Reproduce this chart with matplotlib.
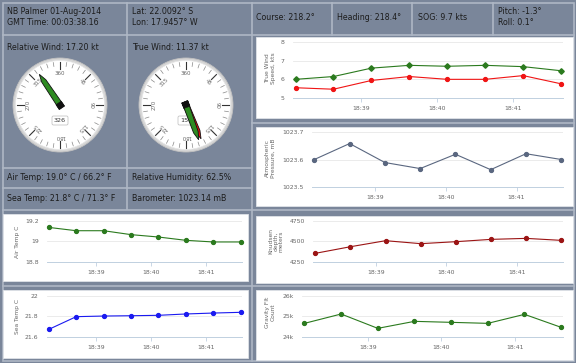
import numpy as np
import matplotlib.pyplot as plt
from matplotlib.patches import Rectangle, Circle, Polygon, FancyBboxPatch

W, H = 576, 363

# ---- data ----
times = ["18:38:08", "18:38:38", "18:39:08", "18:39:38",
         "18:40:08", "18:40:38", "18:41:08", "18:41:38"]
tick_times = ["18:39", "18:40", "18:41"]

wind_speed_green = [6.00, 6.15, 6.60, 6.75, 6.70, 6.75, 6.68, 6.46]
wind_speed_red = [5.55, 5.47, 5.94, 6.15, 6.00, 6.00, 6.20, 5.76]
pressure = [1023.600, 1023.658, 1023.589, 1023.567,
            1023.619, 1023.563, 1023.621, 1023.600]
air_temp = [19.135, 19.103, 19.103, 19.065, 19.042, 19.010, 18.994, 18.994]
sea_temp = [21.674, 21.797, 21.803, 21.806, 21.810, 21.823, 21.832, 21.839]
knudsen = [4355, 4435, 4508, 4472, 4496, 4524, 4536, 4512]
gravity = [24661, 25113, 24419, 24758, 24710, 24661, 25097, 24468]

rel_wind_dir = 326
true_wind_dir = 160
true_wind_dir_red = 156
gauge_labels = ["360", "45", "90", "135", "180", "225", "270", "315"]

header = [("NB Palmer 01-Aug-2014\nGMT Time: 00:03:38.16", 7),
          ("Lat: 22.0092° S\nLon: 17.9457° W", 132),
          ("Course: 218.2°", 256),
          ("Heading: 218.4°", 337),
          ("SOG: 9.7 kts", 418),
          ("Pitch: -1.3°\nRoll: 0.1°", 498)]

BG = "#7a869a"
SEP = "#aeb7c5"
TXT = "#1c1c1c"
GRAY = "#666666"


def to_min(s):
    parts = [int(p) for p in s.split(":")]
    sec = parts[2] if len(parts) > 2 else 0
    return parts[0] * 60 + parts[1] + sec / 60.0


x = np.array([to_min(t) for t in times])
xticks = [to_min(t) for t in tick_times]

fig = plt.figure(figsize=(W / 100, H / 100), dpi=100)
fig.patch.set_facecolor(BG)
base = fig.add_axes([0, 0, 1, 1])
base.set_xlim(0, W)
base.set_ylim(H, 0)
base.axis("off")


def hline(y, x0, x1):
    base.plot([x0, x1], [y, y], color=SEP, lw=1.2)


def vline(xx, y0, y1):
    base.plot([xx, xx], [y0, y1], color=SEP, lw=1.2)


# separators
base.add_patch(Rectangle((2.5, 2.5), 571, 358, fill=False, ec=SEP, lw=1.2))
hline(34.5, 2.5, 573.5)
for xx in [127, 332, 412, 493]:
    vline(xx, 2.5, 34.5)
vline(251.5, 2.5, 360.5)
vline(127, 34.5, 209)
hline(167.5, 2.5, 251.5)
hline(188, 2.5, 251.5)
hline(209.5, 2.5, 573.5)
hline(286, 2.5, 573.5)
hline(122.5, 251.5, 573.5)

# header texts
for txt, xx in header:
    base.text(xx, 17, txt, fontsize=5.7, color=TXT, va="center", ha="left",
              linespacing=1.25)

base.text(7, 48, "Relative Wind: 17.20 kt", fontsize=5.7, color=TXT, va="center")
base.text(132, 48, "True Wind: 11.37 kt", fontsize=5.7, color=TXT, va="center")
base.text(7, 178, "Air Temp: 19.0° C / 66.2° F", fontsize=5.7, color=TXT, va="center")
base.text(132, 178, "Relative Humidity: 62.5%", fontsize=5.7, color=TXT, va="center")
base.text(7, 198.5, "Sea Temp: 21.8° C / 71.3° F", fontsize=5.7, color=TXT, va="center")
base.text(132, 198.5, "Barometer: 1023.14 mB", fontsize=5.7, color=TXT, va="center")


def draw_needle(cx, cy, bearing, length, color, z):
    a = np.deg2rad(bearing)
    d = np.array([np.sin(a), -np.cos(a)])
    n = np.array([np.cos(a), np.sin(a)])
    c = np.array([cx, cy])
    pts = [c - d * 3 + n * 3.0, c + d * length * 0.78 + n * 2.4,
           c + d * length, c + d * length * 0.78 - n * 2.4, c - d * 3 - n * 3.0]
    base.add_patch(Polygon(pts, closed=True, fc=color, ec="#111111", lw=0.6, zorder=z))
    base.add_patch(Polygon([c - d * 3.5 + n * 3.2, c + d * 2.5 + n * 3.2,
                            c + d * 2.5 - n * 3.2, c - d * 3.5 - n * 3.2],
                           closed=True, fc="#111111", ec="#111111", lw=0.4, zorder=z + 0.1))


def gauge(cx, cy, value_text, needles):
    r = 47
    base.add_patch(Circle((cx, cy), r, fc="#d6d6d6", ec="#c0c0c0", lw=0.6, zorder=2))
    base.add_patch(Circle((cx, cy), r - 2.5, fc="#ffffff", ec="#e6e6e6", lw=0.5, zorder=2))
    for deg in np.arange(0, 360, 9):
        a = np.deg2rad(deg)
        major = deg % 45 == 0
        r0 = r - (11 if major else 8)
        r1 = r - 4
        base.plot([cx + r0 * np.sin(a), cx + r1 * np.sin(a)],
                  [cy - r0 * np.cos(a), cy - r1 * np.cos(a)],
                  color="#333333" if major else "#888888",
                  lw=0.8 if major else 0.5, zorder=3)
    for i, lab in enumerate(gauge_labels):
        deg = i * 45
        a = np.deg2rad(deg)
        rr = r - 15.5
        base.text(cx + rr * np.sin(a), cy - rr * np.cos(a), lab, fontsize=3.9,
                  color=GRAY, rotation=-deg, ha="center", va="center",
                  rotation_mode="anchor", zorder=3)
    base.add_patch(FancyBboxPatch((cx - 8, cy + 11), 16, 9,
                                  boxstyle="round,pad=0,rounding_size=1.5",
                                  fc="white", ec="#bbbbbb", lw=0.5, zorder=4))
    base.text(cx, cy + 15.5, value_text, fontsize=4.6, color="#333333",
              ha="center", va="center", zorder=4)
    for k, (bearing, color) in enumerate(needles):
        draw_needle(cx, cy, bearing, 37, color, 5 + k)


gauge(60, 105, str(rel_wind_dir), [(rel_wind_dir, "#2e8b22")])
gauge(186, 105, str(true_wind_dir - 1),
      [(true_wind_dir_red, "#e81010"), (true_wind_dir, "#2e8b22")])


def px_axes(x0, y0, x1, y1):
    return fig.add_axes([x0 / W, 1 - y1 / H, (x1 - x0) / W, (y1 - y0) / H])


def chart(panel, plot, series, ylim, yticks, yticklabels, ylabel, lab_xy):
    px0, py0, px1, py1 = panel
    base.add_patch(Rectangle((px0, py0), px1 - px0, py1 - py0, fc="white",
                             ec="#dfe3e8", lw=0.6, zorder=1))
    base.text(lab_xy[0], lab_xy[1], ylabel, rotation=90, fontsize=4.3,
              color=GRAY, ha="center", va="center", linespacing=1.1, zorder=2)
    ax = px_axes(*plot)
    ax.set_facecolor("none")
    for vals, color, marker in series:
        ax.plot(x, vals, color=color, lw=0.8, marker=marker, ms=2.8,
                mfc=color, mec=color, zorder=3, clip_on=False)
    ax.set_xlim(x[0] - 2 / 60, x[-1] + 1.5 / 60)
    ax.set_ylim(*ylim)
    ax.set_yticks(yticks)
    ax.set_yticklabels(yticklabels)
    ax.set_xticks(xticks)
    ax.set_xticklabels(tick_times)
    for s in ["top", "right", "left"]:
        ax.spines[s].set_visible(False)
    ax.spines["bottom"].set_color("#c0d0e0")
    ax.spines["bottom"].set_linewidth(0.7)
    ax.grid(axis="y", color="#e8e8e8", lw=0.6)
    ax.tick_params(axis="y", length=0, pad=6, labelsize=4.4, labelcolor=GRAY)
    ax.tick_params(axis="x", length=3, width=0.6, color="#c0d0e0", pad=3,
                   labelsize=4.4, labelcolor=GRAY)
    return ax


chart((256, 37, 573, 118), (293, 42, 563, 98),
      [(wind_speed_green, "#2b7a1e", "D"), (wind_speed_red, "#f01414", "o")],
      (5, 8), [5, 6, 7, 8], ["5", "6", "7", "8"],
      "True Wind\nSpeed, kts", (270.5, 68))

chart((256, 127, 573, 206), (312, 132, 563, 187),
      [(pressure, "#5a6780", "o")],
      (1023.5, 1023.7), [1023.5, 1023.6, 1023.7], ["1023.5", "1023.6", "1023.7"],
      "Atmospheric\nPressure, mB", (270.5, 158))

chart((3, 214, 248, 281), (47, 220.7, 242, 262),
      [(air_temp, "#2b7a1e", "o")],
      (18.8, 19.2), [18.8, 19.0, 19.2], ["18.8", "19", "19.2"],
      "Air Temp C", (17, 242))

chart((256, 216, 573, 283), (313, 220.7, 563, 262),
      [(knudsen, "#9b1414", "o")],
      (4250, 4750), [4250, 4500, 4750], ["4250", "4500", "4750"],
      "Knudsen\ndepth,\nmeters", (276, 241))

chart((3, 290, 248, 358), (47, 295.7, 242, 337),
      [(sea_temp, "#1a1af0", "o")],
      (21.6, 22.0), [21.6, 21.8, 22.0], ["21.6", "21.8", "22"],
      "Sea Temp C", (17, 317))

chart((256, 290, 573, 360), (302, 295.7, 563, 337),
      [(gravity, "#2b7a1e", "o")],
      (24000, 26000), [24000, 25000, 26000], ["24k", "25k", "26k"],
      "Gravity Flt\nCount", (270.5, 312))

fig.savefig("out.png", dpi=100, facecolor=fig.get_facecolor())
